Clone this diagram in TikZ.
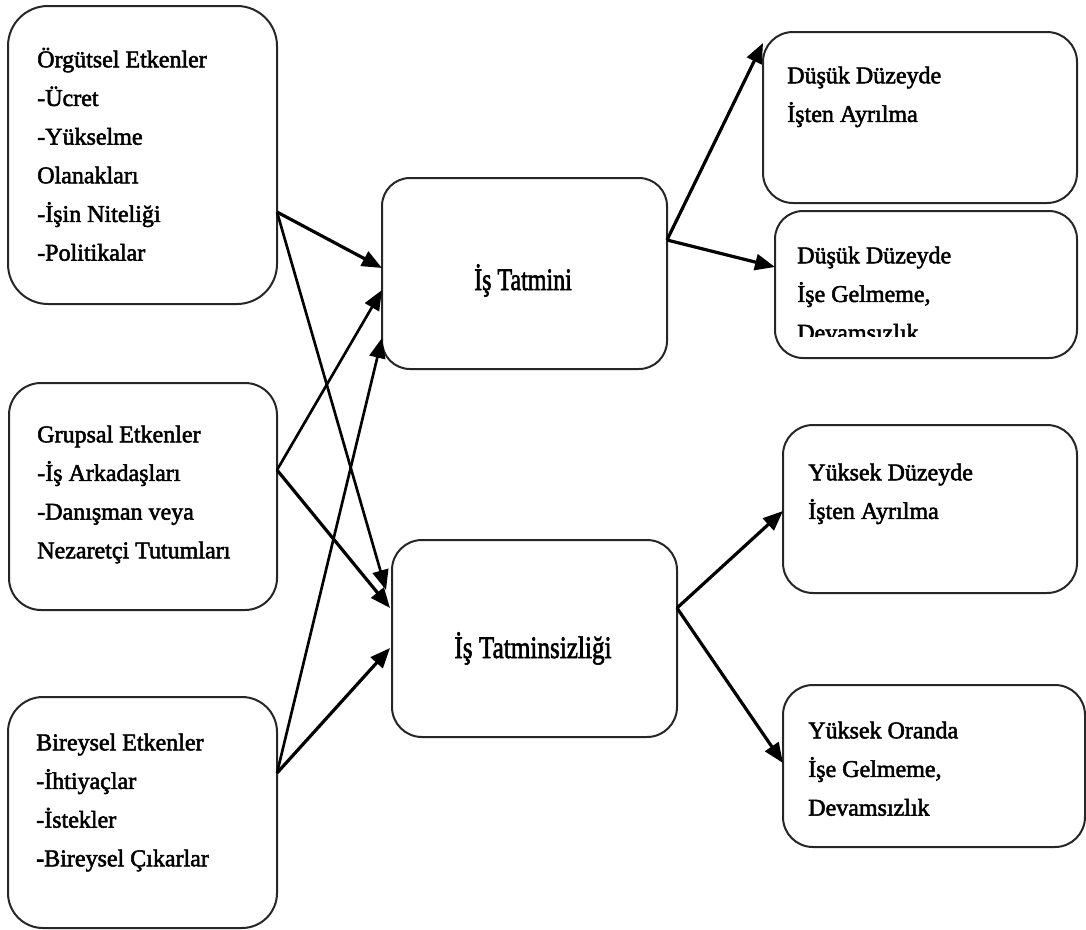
\documentclass[tikz,border=0pt]{standalone}
\usepackage{fontspec}
\setmainfont{Liberation Serif}[FakeBold=2.2]
\usepackage{graphicx}
\usetikzlibrary{arrows.meta}

\begin{document}
\begin{tikzpicture}[x=0.75pt,y=-0.75pt,
  box/.style={draw=black!85, line width=1.5pt, rounded corners=#1,
              inner sep=0pt, outer sep=0pt},
  box/.default=22.5pt,
  txt/.style={anchor=north west, align=left, inner sep=0pt,
              font=\fontsize{18}{29}\selectfont},
  ctxt/.style={anchor=base, inner sep=0pt, font=\fontsize{18}{29}\selectfont},
  arr/.style={line width=2.4pt, -{Triangle[length=15pt,width=12pt]}},
  arrthin/.style={line width=2pt, -{Triangle[length=15pt,width=12pt]}},
]
\useasboundingbox (0,0) rectangle (1086,929);

% factor boxes on the left
\node[box=30pt, minimum width=201.75pt, minimum height=223.5pt] (A) at (142.5,155) {};
\node[box=24pt, minimum width=201pt, minimum height=170.25pt] (B) at (143,496.5) {};
\node[box=26.25pt, minimum width=201.75pt, minimum height=173.25pt] (C) at (142.5,812.5) {};

% satisfaction boxes in the middle
\node[box=21pt, minimum width=213.75pt, minimum height=143.25pt] (T) at (524.5,273.5) {};
\node[box=22.5pt, minimum width=213.75pt, minimum height=147.75pt] (U) at (534.5,638.5) {};

% outcome boxes on the right
\node[box=22.5pt, minimum width=235.5pt, minimum height=128.25pt] (D1) at (920,117.5) {};
\node[box=21pt, minimum width=226.5pt, minimum height=110.25pt] (D2) at (926,284.5) {};
\node[box=22.5pt, minimum width=220.5pt, minimum height=126pt] (Y1) at (930,509) {};
\node[box=22.5pt, minimum width=226.5pt, minimum height=121.5pt] (Y2) at (934,766) {};

% texts
\node[txt] (At) at (37,43) {\rule{0pt}{18pt}Örgütsel Etkenler\\-Ücret\\-Yükselme\\Olanakları\\-İşin Niteliği\\-Politikalar};
\node[txt] (Bt) at (37,418) {\rule{0pt}{18pt}Grupsal Etkenler\\-İş Arkadaşları\\-Danışman veya\\Nezaretçi Tutumları};
\node[txt] (Ct) at (36,726) {\rule{0pt}{18pt}Bireysel Etkenler\\-İhtiyaçlar\\-İstekler\\-Bireysel Çıkarlar};
\node[ctxt] (Tt) at (523,290) {\scalebox{1}[1.3]{İş Tatmini}};
\node[ctxt] (Ut) at (533,658) {\scalebox{1.05}[1.3]{İş Tatminsizliği}};
\node[txt] (D1t) at (787,59) {\rule{0pt}{18pt}Düşük Düzeyde\\İşten Ayrılma};
\begin{scope}
  % the last line runs past the bottom of its text frame
  \clip (775,211) rectangle (1077,336);
  \node[txt] (D2t) at (797,239) {\rule{0pt}{18pt}Düşük Düzeyde\\İşe Gelmeme,\\Devamsızlık};
\end{scope}
\node[txt] (Y1t) at (808,456) {\rule{0pt}{18pt}Yüksek Düzeyde\\İşten Ayrılma};
\node[txt] (Y2t) at (808,714) {\rule{0pt}{18pt}Yüksek Oranda\\İşe Gelmeme,\\Devamsızlık};

% connectors
\draw[arr]     ([shift={(0,57)}]A.east) -- ([shift={(0,-5.5)}]T.west);
\draw[arrthin] ([shift={(0,57)}]A.east) -- ([shift={(-6,-48.5)}]U.west);
\draw[arrthin] ([shift={(0,-26.5)}]B.east) -- ([shift={(0,16.5)}]T.west);
\draw[arr]     ([shift={(0,-26.5)}]B.east) -- ([shift={(-2,-30.5)}]U.west);
\draw[arrthin] ([shift={(0,-39.5)}]C.east) -- ([shift={(0,64.5)}]T.west);
\draw[arr]     ([shift={(0,-39.5)}]C.east) -- ([shift={(-2,9.5)}]U.west);
\draw[arr]     ([shift={(0,-33.5)}]T.east) -- ([shift={(0,-74.5)}]D1.west);
\draw[arr]     ([shift={(0,-33.5)}]T.east) -- ([shift={(0,-17.5)}]D2.west);
\draw[arr]     ([shift={(0,-30.5)}]U.east) -- ([shift={(0,2)}]Y1.west);
\draw[arr]     ([shift={(0,-30.5)}]U.east) -- ([shift={(0,-3)}]Y2.west);
\end{tikzpicture}
\end{document}
